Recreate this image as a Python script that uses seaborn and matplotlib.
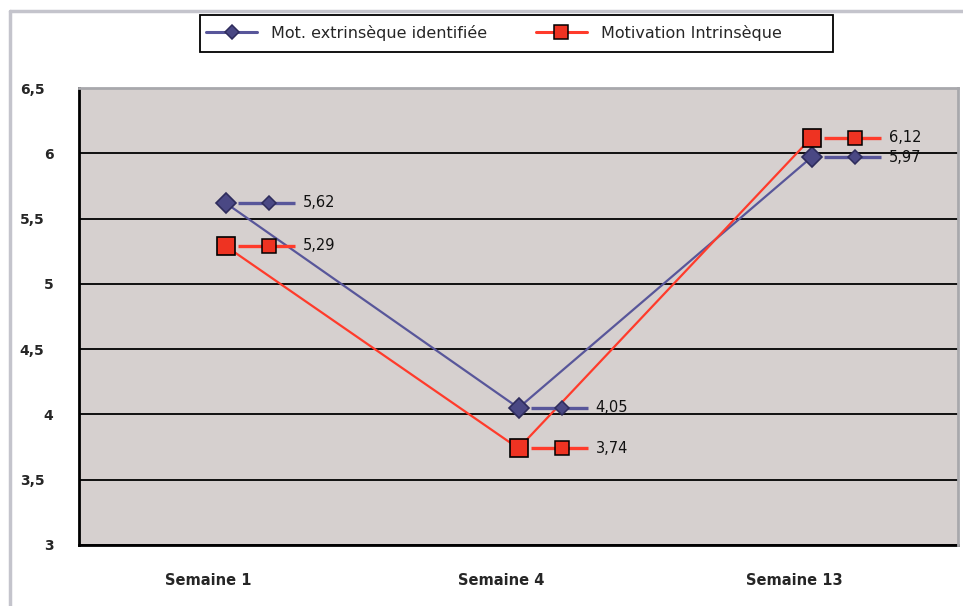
import pandas as pd
import numpy as np
import matplotlib.pyplot as plt
import matplotlib.lines as mlines
import matplotlib.patches as mpatches
import matplotlib.transforms as mtransforms
import seaborn as sns

# ------------------------------------------------------------------
# Données
# ------------------------------------------------------------------
semaines = ['Semaine 1', 'Semaine 4', 'Semaine 13']
series = ['Mot. extrinsèque identifiée', 'Motivation Intrinsèque']
mot_extrinseque = [5.62, 4.05, 5.97]
mot_intrinseque = [5.29, 3.74, 6.12]
y_ticks = [3, 3.5, 4, 4.5, 5, 5.5, 6, 6.5]
y_tick_labels = ['3', '3,5', '4', '4,5', '5', '5,5', '6', '6,5']

df = pd.DataFrame({
    'semaine': semaines * 2,
    'valeur': mot_extrinseque + mot_intrinseque,
    'serie': [series[0]] * 3 + [series[1]] * 3,
})

# styles (style Excel)
couleur_ligne = {series[0]: '#58569A', series[1]: '#FF3B2B'}
couleur_marq = {series[0]: '#4A4884', series[1]: '#EE3322'}
bord_marq = {series[0]: '#2E2C5C', series[1]: '#000000'}
marqueur = {series[0]: 'D', series[1]: 's'}
taille = {series[0]: 9.7, series[1]: 13.5}
taille_cle = {series[0]: 7.5, series[1]: 10.5}

sns.set_style('white')
plt.rcParams['font.family'] = ['DejaVu Sans']

fig = plt.figure(figsize=(9.63, 6.06), dpi=100)
ax = fig.add_axes([79 / 963, 1 - 545 / 606, 879 / 963, 457 / 606])
ax.set_facecolor('#D6D0CF')

for s in series:
    sub = df[df['serie'] == s]
    sns.lineplot(data=sub, x='semaine', y='valeur', ax=ax, sort=False,
                 color=couleur_ligne[s], lw=1.6, marker=marqueur[s],
                 markersize=taille[s], markerfacecolor=couleur_marq[s],
                 markeredgecolor=bord_marq[s], markeredgewidth=1.2,
                 legend=False, zorder=3)

ax.set_xlim(-0.5, 2.5)
ax.set_ylim(3, 6.5)

# étiquettes de données avec clé de légende (comme Excel)
px = 3 / 879  # unités x par pixel
for s in series:
    sub = df[df['serie'] == s].reset_index(drop=True)
    for j, v in enumerate(sub['valeur']):
        ax.plot([j + 12 * px, j + 69 * px], [v, v], color=couleur_ligne[s],
                lw=2.4, zorder=4, solid_capstyle='butt')
        ax.plot([j + 43 * px], [v], marker=marqueur[s], ms=taille_cle[s],
                mfc=couleur_marq[s], mec=bord_marq[s], mew=1.1, zorder=5)
        ax.text(j + 77 * px, v, f'{v:.2f}'.replace('.', ','), va='center',
                ha='left', fontsize=10.5, color='#111111', zorder=5)

# axes
ax.set_yticks(y_ticks, y_tick_labels)
ax.set_xticks(range(3), semaines)
ax.set_xticks([-0.5, 0.5, 1.5, 2.5], minor=True)
ax.tick_params(axis='y', which='major', length=7, width=1.5, color='black',
               pad=18, labelsize=10)
ax.tick_params(axis='x', which='major', length=0, pad=20, labelsize=10.5)
ax.tick_params(axis='x', which='minor', length=7, width=1.5, color='black')
decalage = mtransforms.ScaledTranslation(-17 / 100, 0, fig.dpi_scale_trans)
for lab in ax.get_xticklabels():
    lab.set_fontweight('bold')
    lab.set_transform(lab.get_transform() + decalage)
# les entiers sont un peu décalés vers la droite dans l'original
decalage_y = mtransforms.ScaledTranslation(9 / 100, 0, fig.dpi_scale_trans)
for lab in ax.get_yticklabels():
    lab.set_fontweight('bold')
    if ',' not in lab.get_text():
        lab.set_transform(lab.get_transform() + decalage_y)
ax.set_xlabel('')
ax.set_ylabel('')

ax.set_axisbelow(True)
ax.yaxis.grid(True, color='black', lw=1.3)
ax.xaxis.grid(False)
for side in ['left', 'bottom']:
    ax.spines[side].set_color('black')
    ax.spines[side].set_linewidth(2)
for side in ['top', 'right']:
    ax.spines[side].set_color('#A8A8AC')
    ax.spines[side].set_linewidth(2)
    ax.spines[side].set_zorder(6)

# légende (cadre dessiné à part, comme dans Excel)
handles = [mlines.Line2D([], [], color=couleur_ligne[s], lw=2.2, marker=marqueur[s],
                         ms=taille_cle[s], mfc=couleur_marq[s], mec=bord_marq[s],
                         mew=1.1, label=s) for s in series]
fig.add_artist(mpatches.Rectangle((200 / 963, 1 - 52 / 606), 633 / 963, 37 / 606,
                                  transform=fig.transFigure, facecolor='white',
                                  edgecolor='black', lw=1.3, zorder=1))
leg = fig.legend(handles=handles, loc='center left', ncol=2,
                 bbox_to_anchor=(206 / 963, 1 - 33 / 606),
                 frameon=False, fontsize=11.5, handlelength=3.2,
                 handletextpad=0.9, columnspacing=3.0, borderpad=0,
                 borderaxespad=0)

# bordure de la zone de graphique
fig.add_artist(mlines.Line2D([10 / 963, 10 / 963], [0, 1 - 11 / 606],
                             transform=fig.transFigure, color='#C4C4CC', lw=2.5))
fig.add_artist(mlines.Line2D([10 / 963, 1], [1 - 11 / 606, 1 - 11 / 606],
                             transform=fig.transFigure, color='#C4C4CC', lw=2.5))

fig.savefig('out.png', dpi=100)
